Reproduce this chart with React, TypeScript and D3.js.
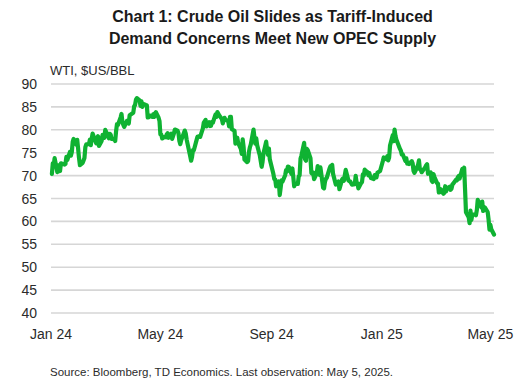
import * as d3 from "d3";

// WTI daily settles, one value per trading day (weekdays minus exchange holidays)
const wti2024: number[] = [
  // Jan
  70.38, 72.7, 72.19, 73.81, 70.77, 72.24, 71.37, 71.02, 72.68, 72.4, 72.56, 74.08, 73.41, 75.19, 74.37, 75.09, 77.36, 78.01, 76.78, 77.82, 75.85,
  // Feb
  73.82, 72.28, 72.78, 73.31, 73.86, 76.22, 76.84, 76.92, 77.87, 76.64, 78.03, 79.19, 77.04, 77.91, 78.61, 76.49, 77.58, 78.87, 78.54, 78.26,
  // Mar
  79.97, 78.74, 78.15, 79.13, 78.93, 78.01, 77.93, 77.56, 79.72, 81.26, 81.04, 82.72, 83.47, 81.68, 81.07, 80.63, 81.95, 81.62, 81.35, 83.17,
  // Apr
  83.71, 85.15, 85.43, 86.59, 86.91, 86.43, 85.23, 86.21, 85.02, 85.66, 85.41, 85.36, 82.69, 82.73, 83.14, 82.85, 83.36, 82.81, 83.57, 83.85, 82.63, 81.93,
  // May
  79.0, 78.95, 78.11, 78.48, 78.38, 78.99, 79.26, 78.26, 79.12, 78.02, 78.63, 79.23, 80.06, 79.8, 79.26, 77.57, 76.87, 77.72, 79.83, 79.23, 77.91, 76.99,
  // Jun
  74.22, 73.25, 74.07, 75.55, 75.53, 77.74, 78.5, 78.5, 78.62, 78.45, 80.33, 81.57, 82.17, 80.73, 81.63, 80.83, 80.9, 81.74, 81.54,
  // Jul
  83.38, 82.81, 83.88, 83.16, 82.33, 81.41, 82.1, 82.62, 82.21, 81.91, 80.76, 82.85, 82.82, 80.13, 79.78, 76.96, 77.59, 78.28, 77.16, 75.81, 74.73, 77.91,
  // Aug
  76.31, 73.52, 72.94, 73.2, 75.23, 76.19, 76.84, 80.06, 78.35, 76.98, 78.16, 76.65, 74.37, 73.17, 71.93, 73.01, 74.83, 77.42, 75.53, 74.52, 75.91, 73.55,
  // Sep
  70.34, 69.2, 69.15, 67.67, 68.71, 65.75, 67.31, 68.97, 68.65, 70.09, 71.19, 70.91, 71.95, 71.92, 70.37, 71.56, 69.69, 67.67, 68.18, 68.17,
  // Oct
  69.83, 70.1, 73.71, 74.38, 77.14, 73.57, 73.24, 75.85, 75.56, 73.83, 70.58, 70.39, 70.67, 69.22, 70.56, 72.09, 70.77, 70.19, 71.78, 67.38, 67.21, 68.61, 69.26,
  // Nov
  69.49, 71.47, 71.99, 71.69, 72.36, 70.38, 68.04, 68.12, 68.43, 68.7, 67.02, 69.16, 69.39, 68.87, 70.1, 71.24, 68.94, 68.77, 68.72, 68.0,
  // Dec
  68.1, 69.94, 68.54, 68.3, 67.2, 68.37, 68.59, 70.29, 70.02, 71.29, 70.71, 70.08, 70.58, 69.91, 69.46, 69.24, 70.1, 69.62, 70.6, 70.99, 71.72,
];

const wti2025: number[] = [
  // Jan
  73.13, 73.96, 73.56, 74.25, 73.32, 73.92, 76.57, 78.82, 77.5, 80.04, 78.68, 77.88, 75.83, 75.44, 74.62, 74.66, 73.17, 73.77, 72.62, 72.73, 72.53,
  // Feb
  73.16, 72.7, 71.03, 70.61, 71.0, 72.32, 73.32, 71.37, 71.29, 70.74, 71.85, 72.25, 72.48, 70.4, 70.7, 68.93, 68.62, 70.35, 69.76,
  // Mar
  68.37, 68.26, 66.31, 66.36, 67.04, 66.03, 66.25, 67.68, 66.55, 67.18, 67.58, 66.9, 67.16, 68.07, 68.28, 69.11, 69.0, 69.65, 69.92, 69.36, 71.48,
  // Apr
  71.2, 71.71, 66.95, 61.99, 60.9, 59.6, 62.35, 60.3, 61.5, 61.53, 61.33, 62.47, 64.68, 63.08, 64.31, 62.27, 62.79, 63.02, 62.05, 60.42, 58.21,
  // May
  59.24, 58.29, 57.13,
];

const holidays = [
  "2024-01-15", "2024-02-19", "2024-03-29", "2024-05-27", "2024-06-19", "2024-07-04",
  "2024-09-02", "2024-11-28", "2024-12-25", "2025-01-01", "2025-01-20", "2025-02-17", "2025-04-18",
];

const yTicks = [40, 45, 50, 55, 60, 65, 70, 75, 80, 85, 90];
const xTickDates = ["2024-01-01", "2024-05-01", "2024-09-01", "2025-01-01", "2025-05-01"];

const titleLines = [
  "Chart 1: Crude Oil Slides as Tariff-Induced",
  "Demand Concerns Meet New OPEC Supply",
];
const yLabel = "WTI, $US/BBL";
const source = "Source: Bloomberg, TD Economics. Last observation: May 5, 2025.";

const W = 517;
const H = 386;
const margin = { top: 84, right: 23, bottom: 73, left: 51 };
const font = "'Liberation Sans', Arial, sans-serif";
const textColor = "#2b2b2b";

const parse = d3.timeParse("%Y-%m-%d");
const fmt = d3.timeFormat("%Y-%m-%d");
const fmtTick = d3.timeFormat("%b %y");

type Point = { date: Date; value: number };

function buildData(): Point[] {
  const days = d3
    .timeDay.range(new Date(2024, 0, 2), new Date(2025, 4, 6))
    .filter(d => d.getDay() > 0 && d.getDay() < 6 && holidays.indexOf(fmt(d)) < 0);
  const values = wti2024.concat(wti2025);
  const n = Math.min(days.length, values.length);
  return d3.range(n).map(i => ({ date: days[i], value: values[i] }));
}

export default function App() {
  const data = buildData();

  const x = d3
    .scaleTime()
    .domain([new Date(2024, 0, 1), new Date(2025, 4, 5)])
    .range([margin.left, W - margin.right]);

  const y = d3
    .scaleLinear()
    .domain([40, 90])
    .range([H - margin.bottom, margin.top]);

  const line = d3
    .line<Point>()
    .x(d => x(d.date))
    .y(d => y(d.value))
    .curve(d3.curveLinear);

  const cx = (margin.left + W - margin.right) / 2;

  return (
    <svg width={W} height={H} style={{ position: "absolute", left: 0, top: 0, background: "#fff" }}>
      {/* title */}
      <text x={cx} y={22} textAnchor="middle" fontFamily={font} fontWeight="bold" fontSize={16} fill="#1a1a1a">
        {titleLines[0]}
      </text>
      <text x={cx} y={44} textAnchor="middle" fontFamily={font} fontWeight="bold" fontSize={16} fill="#1a1a1a">
        {titleLines[1]}
      </text>

      <text x={50} y={75} fontFamily={font} fontSize={13} fill={textColor}>
        {yLabel}
      </text>

      {/* gridlines + y labels */}
      {yTicks.map(t => (
        <g key={t}>
          <line x1={margin.left} x2={W - margin.right} y1={y(t)} y2={y(t)} stroke="#d6d6d6" strokeWidth={1.6} />
          <text x={37} y={y(t)} dy="0.36em" textAnchor="end" fontFamily={font} fontSize={14} fill={textColor}>
            {t}
          </text>
        </g>
      ))}

      {/* x labels */}
      {xTickDates.map(s => {
        const d = parse(s)!;
        return (
          <text key={s} x={x(d)} y={339} textAnchor="middle" fontFamily={font} fontSize={14} fill={textColor}>
            {fmtTick(d)}
          </text>
        );
      })}

      <path
        d={line(data) || ""}
        fill="none"
        stroke="#0fb232"
        strokeWidth={4.2}
        strokeLinejoin="round"
        strokeLinecap="round"
      />

      <text x={50} y={376} fontFamily={font} fontSize={11.5} fill={textColor}>
        {source}
      </text>
    </svg>
  );
}
